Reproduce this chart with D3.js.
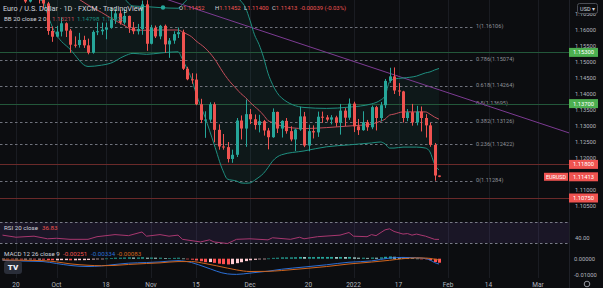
<!DOCTYPE html>
<html>
<head>
<meta charset="utf-8">
<script src="https://cdn.jsdelivr.net/npm/d3@7"></script>
<style>
  html, body { margin: 0; padding: 0; background: #0c0d10; overflow: hidden; }
  svg { display: block; font-family: Roboto, "Liberation Sans", sans-serif; }
</style>
</head>
<body>
<script>
// Ukuran kanvas dan batas panel
const SVG_DIM = { W: 603, H: 288 };
const PLOT_R = 569; // tepi kanan area plot, sumbu harga di sebelah kanannya
const PANE = { MAIN: [0, 213], RSI: [213, 249], MACD: [249, 278] };

// ---- Data candle harian EUR/USD (mulai 15 Sep 2021, hanya hari kerja) ----
const FIRST_DAY = "2021-09-15";
const opens = [
  1.1802, 1.1812, 1.1766,
  1.1725, 1.1727, 1.1725, 1.1689, 1.1740,
  1.1718, 1.1695, 1.1683, 1.1597, 1.1579,
  1.1595, 1.1621, 1.1598, 1.1554, 1.1553,
  1.1569, 1.1552, 1.1529, 1.1594, 1.1596,
  1.1601, 1.1607, 1.1633, 1.1652, 1.1623,
  1.1644, 1.1608, 1.1596, 1.1603, 1.1680,
  1.1557, 1.1607, 1.1580, 1.1613, 1.1555,
  1.1567, 1.1587, 1.1593, 1.1479, 1.1446,
  1.1445, 1.1368, 1.1318, 1.1320, 1.1368,
  1.1288, 1.1236, 1.1234, 1.1197, 1.1210,
  1.1317, 1.1292, 1.1337, 1.1321, 1.1303,
  1.1315, 1.1286, 1.1265, 1.1344, 1.1292,
  1.1316, 1.1284, 1.1258, 1.1289, 1.1330,
  1.1239, 1.1284, 1.1280, 1.1329, 1.1327,
  1.1320, 1.1327, 1.1310, 1.1348, 1.1326,
  1.1370, 1.1299, 1.1287, 1.1312, 1.1296,
  1.1359, 1.1325, 1.1365, 1.1441, 1.1455,
  1.1411, 1.1408, 1.1325, 1.1343, 1.1311,
  1.1345, 1.1325, 1.1302, 1.1241, 1.11452
];
const highs = [
  1.1831, 1.1822, 1.1787,
  1.1753, 1.1750, 1.1744, 1.1751, 1.1752,
  1.1726, 1.1704, 1.1688, 1.1611, 1.1613,
  1.1640, 1.1624, 1.1603, 1.1580, 1.1591,
  1.1582, 1.1573, 1.1599, 1.1624, 1.1623,
  1.1623, 1.1669, 1.1667, 1.1663, 1.1665,
  1.1645, 1.1625, 1.1619, 1.1692, 1.1693,
  1.1616, 1.1614, 1.1616, 1.1617, 1.1575,
  1.1596, 1.1608, 1.1601, 1.1485, 1.1465,
  1.1464, 1.1385, 1.1346, 1.1374, 1.1374,
  1.1305, 1.1275, 1.1250, 1.1226, 1.1325,
  1.1333, 1.1383, 1.1353, 1.1336, 1.1335,
  1.1319, 1.1294, 1.1355, 1.1345, 1.1318,
  1.1325, 1.1299, 1.1292, 1.1360, 1.1344,
  1.1304, 1.1302, 1.1345, 1.1345, 1.1334,
  1.1334, 1.1332, 1.1369, 1.1356, 1.1386,
  1.1376, 1.1322, 1.1346, 1.1319, 1.1364,
  1.1363, 1.1375, 1.1447, 1.1482, 1.1483,
  1.1434, 1.1410, 1.1353, 1.1369, 1.1363,
  1.1361, 1.1337, 1.1310, 1.1247, 1.11452
];
const lows = [
  1.1800, 1.1751, 1.1720,
  1.1701, 1.1714, 1.1684, 1.1686, 1.1700,
  1.1683, 1.1667, 1.1585, 1.1563, 1.1577,
  1.1580, 1.1578, 1.1529, 1.1545, 1.1545,
  1.1544, 1.1524, 1.1526, 1.1584, 1.1585,
  1.1571, 1.1604, 1.1619, 1.1617, 1.1617,
  1.1591, 1.1587, 1.1586, 1.1585, 1.1535,
  1.1555, 1.1575, 1.1571, 1.1529, 1.1513,
  1.1557, 1.1575, 1.1475, 1.1443, 1.1432,
  1.1365, 1.1309, 1.1263, 1.1313, 1.1249,
  1.1226, 1.1226, 1.1186, 1.1185, 1.1203,
  1.1258, 1.1235, 1.1306, 1.1289, 1.1280,
  1.1270, 1.1227, 1.1263, 1.1278, 1.1264,
  1.1276, 1.1252, 1.1222, 1.1285, 1.1234,
  1.1221, 1.1261, 1.1266, 1.1310, 1.1314,
  1.1305, 1.1298, 1.1273, 1.1300, 1.1319,
  1.1281, 1.1272, 1.1285, 1.1285, 1.1290,
  1.1286, 1.1315, 1.1356, 1.1435, 1.1400,
  1.1394, 1.1311, 1.1315, 1.1301, 1.1302,
  1.1283, 1.1264, 1.1235, 1.1129, 1.11400
];
const closes = [
  1.1812, 1.1766, 1.1725,
  1.1727, 1.1725, 1.1689, 1.1740, 1.1718,
  1.1695, 1.1683, 1.1597, 1.1579, 1.1595,
  1.1621, 1.1598, 1.1554, 1.1553, 1.1569,
  1.1552, 1.1529, 1.1594, 1.1596, 1.1601,
  1.1607, 1.1633, 1.1652, 1.1623, 1.1644,
  1.1608, 1.1596, 1.1603, 1.1680, 1.1557,
  1.1607, 1.1580, 1.1613, 1.1555, 1.1567,
  1.1587, 1.1593, 1.1479, 1.1446, 1.1445,
  1.1368, 1.1319, 1.1320, 1.1368, 1.1288,
  1.1236, 1.1234, 1.1197, 1.1210, 1.1317,
  1.1292, 1.1337, 1.1321, 1.1303, 1.1315,
  1.1286, 1.1265, 1.1344, 1.1292, 1.1316,
  1.1284, 1.1258, 1.1289, 1.1330, 1.1239,
  1.1284, 1.1280, 1.1329, 1.1327, 1.1320,
  1.1327, 1.1310, 1.1348, 1.1326, 1.1370,
  1.1299, 1.1287, 1.1312, 1.1296, 1.1359,
  1.1325, 1.1365, 1.1441, 1.1455, 1.1411,
  1.1408, 1.1325, 1.1343, 1.1311, 1.1345,
  1.1325, 1.1302, 1.1241, 1.11452, 1.11413
];

// ---- Bollinger Bands (20, 2), dibaca dari gambar pada beberapa tanggal ----
const bbDates = [
  "2021-09-15", "2021-09-22", "2021-09-28", "2021-09-29", "2021-09-30", "2021-10-01",
  "2021-10-06", "2021-10-12", "2021-10-15", "2021-10-19", "2021-10-22", "2021-10-26",
  "2021-10-29", "2021-11-03", "2021-11-09", "2021-11-10", "2021-11-11", "2021-11-12",
  "2021-11-15", "2021-11-17", "2021-11-19", "2021-11-23", "2021-11-24", "2021-11-26",
  "2021-11-29", "2021-11-30", "2021-12-01", "2021-12-02", "2021-12-03", "2021-12-06",
  "2021-12-07", "2021-12-08", "2021-12-10", "2021-12-17", "2021-12-24", "2021-12-31",
  "2022-01-07", "2022-01-11", "2022-01-12", "2022-01-13", "2022-01-14", "2022-01-18",
  "2022-01-21", "2022-01-25", "2022-01-26", "2022-01-27", "2022-01-28"
];
const bbUpper = [
  1.1890, 1.1885, 1.1880, 1.1885, 1.1890, 1.1895,
  1.1890, 1.1870, 1.1800, 1.1760, 1.1700, 1.1675,
  1.1673, 1.1670, 1.1668, 1.1680, 1.1695, 1.1710,
  1.1730, 1.1760, 1.1780, 1.1790, 1.1782, 1.1705,
  1.1690, 1.1670, 1.1630, 1.1585, 1.1555, 1.1515,
  1.1465, 1.1430, 1.1388, 1.1358, 1.1355, 1.1359,
  1.1369, 1.1381, 1.1394, 1.1438, 1.1447, 1.1450,
  1.1456, 1.1466, 1.1469, 1.1475, 1.14798
];
const bbBasis = [
  1.1800, 1.1780, 1.1765, 1.1758, 1.1750, 1.1742,
  1.1715, 1.1678, 1.1655, 1.1638, 1.1615, 1.1600,
  1.1599, 1.1600, 1.1600, 1.1594, 1.1587, 1.1579,
  1.1566, 1.1544, 1.1512, 1.1468, 1.1448, 1.1416,
  1.1401, 1.1389, 1.1374, 1.1361, 1.1349, 1.1334,
  1.1317, 1.1311, 1.1300, 1.1292, 1.1295, 1.1300,
  1.1306, 1.1315, 1.1321, 1.1334, 1.1337, 1.1344,
  1.1344, 1.1344, 1.1337, 1.1328, 1.13211
];
const bbLower = [
  1.1715, 1.1705, 1.1690, 1.1650, 1.1612, 1.1585,
  1.1540, 1.1486, 1.1490, 1.1496, 1.1518, 1.1527,
  1.1524, 1.1528, 1.1532, 1.1508, 1.1479, 1.1448,
  1.1402, 1.1328, 1.1244, 1.1160, 1.1134, 1.1128,
  1.1122, 1.1121, 1.1122, 1.1130, 1.1140, 1.1152,
  1.1170, 1.1190, 1.1210, 1.1222, 1.1235, 1.1241,
  1.1247, 1.1250, 1.1244, 1.1231, 1.1231, 1.1234,
  1.1234, 1.1231, 1.1219, 1.1181, 1.11623
];

// ---- RSI (20) ----
const rsiDates = [
  "2021-09-15", "2021-09-20", "2021-09-24", "2021-09-29", "2021-10-01", "2021-10-06",
  "2021-10-12", "2021-10-14", "2021-10-20", "2021-10-25", "2021-10-28", "2021-10-29",
  "2021-11-03", "2021-11-05", "2021-11-09", "2021-11-10", "2021-11-16", "2021-11-18",
  "2021-11-19", "2021-11-24", "2021-11-26", "2021-12-01", "2021-12-07", "2021-12-08",
  "2021-12-14", "2021-12-16", "2021-12-17", "2021-12-22", "2021-12-29", "2021-12-31",
  "2022-01-03", "2022-01-06", "2022-01-07", "2022-01-10", "2022-01-12", "2022-01-13",
  "2022-01-14", "2022-01-18", "2022-01-19", "2022-01-20", "2022-01-21", "2022-01-24",
  "2022-01-25", "2022-01-26", "2022-01-27", "2022-01-28"
];
const rsiValues = [
  45, 41, 43, 38, 39, 37,
  37, 42, 46, 44, 51, 43,
  46, 43, 45, 37, 32, 36,
  32, 29, 37, 38, 36, 40,
  37, 41, 38, 42, 45, 50,
  43, 42, 46, 44, 55, 57,
  52, 47, 48, 45, 47, 45,
  43, 40, 37, 36.83
];

// ---- MACD (12, 26, 9) ----
const macdDates = [
  "2021-09-15", "2021-09-22", "2021-09-28", "2021-10-01", "2021-10-06", "2021-10-12",
  "2021-10-15", "2021-10-20", "2021-10-25", "2021-10-29", "2021-11-03", "2021-11-09",
  "2021-11-12", "2021-11-17", "2021-11-24", "2021-11-26", "2021-12-01", "2021-12-07",
  "2021-12-10", "2021-12-17", "2021-12-24", "2021-12-31", "2022-01-07", "2022-01-13",
  "2022-01-18", "2022-01-21", "2022-01-25", "2022-01-26", "2022-01-27", "2022-01-28"
];
const macdValues = [
  -0.0010, -0.0015, -0.0018, -0.0030, -0.0042, -0.0049,
  -0.0045, -0.0036, -0.0028, -0.0024, -0.0020, -0.0012,
  -0.0024, -0.0052, -0.0095, -0.0098, -0.0090, -0.0078,
  -0.0066, -0.0052, -0.0038, -0.0022, -0.0014, 0.0004,
  0.0008, 0.0006, 0.0001, -0.0008, -0.0024, -0.00334
];
const signalValues = [
  -0.0008, -0.0010, -0.0012, -0.0020, -0.0032, -0.0041,
  -0.0044, -0.0042, -0.0036, -0.0030, -0.0026, -0.0018,
  -0.0018, -0.0030, -0.0059, -0.0070, -0.0080, -0.0079,
  -0.0074, -0.0062, -0.0049, -0.0033, -0.0021, -0.0010,
  0.0000, 0.0005, 0.0004, 0.0002, -0.0003, -0.00083
];
// histogram harian, sejajar dengan candle
const histValues = [
  -0.0002, -0.0003, -0.0004,
  -0.0004, -0.0005, -0.0005, -0.0004, -0.0005,
  -0.0005, -0.0006, -0.0009, -0.0010, -0.0010,
  -0.0009, -0.0009, -0.0010, -0.0010, -0.0009,
  -0.0009, -0.0008, -0.0005, -0.0003, -0.0001,
  0.0001, 0.0004, 0.0006, 0.0006, 0.0007,
  0.0008, 0.0007, 0.0007, 0.0009, 0.0006,
  0.0007, 0.0006, 0.0006, 0.0004, 0.0004,
  0.0005, 0.0006, 0.0001, -0.0003, -0.0006,
  -0.0011, -0.0016, -0.0022, -0.0021, -0.0026,
  -0.0031, -0.0034, -0.0036, -0.0034, -0.0028,
  -0.0022, -0.0015, -0.0010, -0.0007, -0.0004,
  -0.0002, 0.0001, 0.0005, 0.0006, 0.0008,
  0.0008, 0.0008, 0.0009, 0.0011, 0.0010,
  0.0010, 0.0010, 0.0011, 0.0011, 0.0011,
  0.0011, 0.0010, 0.0011, 0.0010, 0.0011,
  0.0008, 0.0006, 0.0006, 0.0005, 0.0007,
  0.0006, 0.0008, 0.0012, 0.0014, 0.0012,
  0.0010, 0.0008, 0.0006, 0.0003, 0.0001,
  -0.0001, -0.0003, -0.0010, -0.0021, -0.00251
];

// ---- Fibonacci retracement, garis level, garis tren ----
const fibRatios = ["1", "0.786", "0.618", "0.5", "0.382", "0.236", "0"];
const fibPrices = [1.16106, 1.15074, 1.14264, 1.13695, 1.13126, 1.12422, 1.11284];
const levelPrices = [1.153, 1.137, 1.118, 1.1075];
const levelLabels = ["1.15300", "1.13700", "1.11800", "1.10750"];
const levelIsUp = [true, true, false, false];
const trendDates = ["2021-12-01", "2022-03-01"];
const trendPrices = [1.16094, 1.13106];

// ---- Label sumbu ----
const priceTicks = [1.165, 1.16, 1.155, 1.15, 1.145, 1.14, 1.135, 1.13, 1.125, 1.12, 1.11, 1.105];
const tickDates = [
  "2021-09-20", "2021-10-01", "2021-10-18", "2021-11-01", "2021-11-15", "2021-12-01",
  "2021-12-20", "2022-01-03", "2022-01-17", "2022-02-01", "2022-02-14", "2022-03-01"
];
const tickLabels = ["20", "Oct", "18", "Nov", "15", "Dec", "20", "2022", "17", "Feb", "14", "Mar"];

const COLORS = {
  up: "#26a69a", down: "#ef5350", text: "#d1d4dc", axis: "#b2b5be",
  band: "#1f8f80", basis: "#c24d5a", grid: "#1a1c22"
};

// Indeks hari kerja relatif terhadap 20 Sep 2021
const parse = d3.utcParse("%Y-%m-%d");
const ORIGIN = parse("2021-09-20");
const isWeekday = (d) => d.getUTCDay() % 6 !== 0;
function dayIndex(s) {
  const d = parse(s);
  return d >= ORIGIN
    ? d3.utcDay.range(ORIGIN, d).filter(isWeekday).length
    : -d3.utcDay.range(d, ORIGIN).filter(isWeekday).length;
}
const firstIdx = dayIndex(FIRST_DAY);

const candles = closes.map((c, k) => ({
  i: firstIdx + k, o: opens[k], h: highs[k], l: lows[k], c: c, hist: histValues[k]
}));

// Skala
const x = d3.scaleLinear().domain([0, 94]).range([16, 439]);
const y = d3.scaleLinear().domain([1.16, 1.11]).range([30, 190]);
const yRsi = d3.scaleLinear().domain([30, 70]).range([243, 222]);
const yMacd = d3.scaleLinear().domain([0, -0.01]).range([258.7, 274.7]);

const svg = d3.select("body").append("svg")
  .attr("width", SVG_DIM.W).attr("height", SVG_DIM.H);

svg.append("rect").attr("width", SVG_DIM.W).attr("height", SVG_DIM.H).attr("fill", "#0c0d10");

const defs = svg.append("defs");
defs.append("clipPath").attr("id", "clip-main").append("rect")
  .attr("x", 0).attr("y", PANE.MAIN[0]).attr("width", PLOT_R).attr("height", PANE.MAIN[1] - PANE.MAIN[0]);
defs.append("clipPath").attr("id", "clip-macd").append("rect")
  .attr("x", 0).attr("y", PANE.MACD[0]).attr("width", PLOT_R).attr("height", PANE.MACD[1] - PANE.MACD[0]);

// Grid vertikal
svg.append("g").selectAll("line").data(tickDates).join("line")
  .attr("x1", (d) => Math.round(x(dayIndex(d))) + 0.5)
  .attr("x2", (d) => Math.round(x(dayIndex(d))) + 0.5)
  .attr("y1", 0).attr("y2", PANE.MACD[1])
  .attr("stroke", COLORS.grid);

// pemisah sumbu harga
svg.append("line").attr("x1", PLOT_R + 0.5).attr("x2", PLOT_R + 0.5)
  .attr("y1", 0).attr("y2", SVG_DIM.H).attr("stroke", "#1e2027");

// ===== Panel utama =====
const main = svg.append("g").attr("clip-path", "url(#clip-main)");

const bb = bbDates.map((d, k) => ({ i: dayIndex(d), u: bbUpper[k], m: bbBasis[k], l: bbLower[k] }));

main.append("path").datum(bb)
  .attr("fill", "#26a69a").attr("fill-opacity", 0.07)
  .attr("d", d3.area().x((d) => x(d.i)).y0((d) => y(d.l)).y1((d) => y(d.u)).curve(d3.curveMonotoneX));

// Fibonacci
const fib = main.append("g");
fib.selectAll("line").data(fibPrices).join("line")
  .attr("x1", 0).attr("x2", 473)
  .attr("y1", (d) => Math.round(y(d)) + 0.5).attr("y2", (d) => Math.round(y(d)) + 0.5)
  .attr("stroke", "#6f727c").attr("stroke-dasharray", "2.5,2.5");
fib.selectAll("text").data(fibPrices).join("text")
  .attr("x", 476).attr("y", (d) => y(d))
  .attr("dominant-baseline", "middle")
  .attr("font-size", "5.6px").attr("fill", "#8f9199")
  .text((d, k) => `${fibRatios[k]}(${d.toFixed(5)})`);

// Garis level horizontal
main.append("g").selectAll("line").data(levelPrices).join("line")
  .attr("x1", 0).attr("x2", PLOT_R)
  .attr("y1", (d) => Math.round(y(d)) + 0.5).attr("y2", (d) => Math.round(y(d)) + 0.5)
  .attr("stroke", (d, k) => (levelIsUp[k] ? "#23573a" : "#6b2a2a"));

// Garis tren (diperpanjang ke tepi)
const trend = d3.scaleLinear().domain(trendDates.map(dayIndex)).range(trendPrices);
const iLeft = x.invert(0), iRight = x.invert(PLOT_R);
main.append("line")
  .attr("x1", 0).attr("y1", y(trend(iLeft)))
  .attr("x2", PLOT_R).attr("y2", y(trend(iRight)))
  .attr("stroke", "#7d3b93").attr("stroke-width", 1);

// Garis Bollinger
const bbLine = (key) => d3.line().x((d) => x(d.i)).y((d) => y(d[key])).curve(d3.curveMonotoneX);
main.append("path").datum(bb).attr("fill", "none").attr("stroke", COLORS.band).attr("d", bbLine("u"));
main.append("path").datum(bb).attr("fill", "none").attr("stroke", COLORS.band).attr("d", bbLine("l"));
main.append("path").datum(bb).attr("fill", "none").attr("stroke", COLORS.basis).attr("d", bbLine("m"));

// Candle
const cg = main.append("g").selectAll("g").data(candles).join("g")
  .attr("fill", (d) => (d.c >= d.o ? COLORS.up : COLORS.down))
  .attr("stroke", (d) => (d.c >= d.o ? COLORS.up : COLORS.down));
cg.append("line")
  .attr("x1", (d) => Math.round(x(d.i)) + 0.5).attr("x2", (d) => Math.round(x(d.i)) + 0.5)
  .attr("y1", (d) => y(d.h)).attr("y2", (d) => y(d.l));
cg.append("rect")
  .attr("stroke", "none")
  .attr("x", (d) => Math.round(x(d.i)) - 1).attr("width", 3)
  .attr("y", (d) => y(Math.max(d.o, d.c)))
  .attr("height", (d) => Math.max(1, Math.abs(y(d.o) - y(d.c))));

// Sumbu harga
const priceAxis = d3.axisRight(y).tickValues(priceTicks).tickSize(0).tickPadding(0)
  .tickFormat(d3.format(".5f"));
svg.append("g").attr("transform", `translate(575,0)`).call(priceAxis)
  .call((g) => g.select(".domain").remove())
  .call((g) => g.selectAll("text").attr("fill", COLORS.axis).attr("font-size", "5.8px")
    .attr("font-family", "Roboto, sans-serif"));

// Label level di sumbu
const boxes = svg.append("g");
levelPrices.forEach((p, k) => {
  const c = levelIsUp[k] ? "#4caf50" : "#ef5350";
  boxes.append("rect").attr("x", PLOT_R).attr("y", y(p) - 4.5).attr("width", 29).attr("height", 9).attr("fill", c);
  boxes.append("text").attr("x", PLOT_R + 14.5).attr("y", y(p)).attr("text-anchor", "middle")
    .attr("dominant-baseline", "central").attr("font-size", "5.8px").attr("fill", "#fff").text(levelLabels[k]);
});
const last = candles[candles.length - 1];
boxes.append("rect").attr("x", 544).attr("y", y(last.c) - 4).attr("width", 24).attr("height", 8).attr("fill", "#ef5350");
boxes.append("text").attr("x", 556).attr("y", y(last.c)).attr("text-anchor", "middle")
  .attr("dominant-baseline", "central").attr("font-size", "5.4px").attr("fill", "#fff").text("EURUSD");
boxes.append("rect").attr("x", PLOT_R).attr("y", y(last.c) - 4.5).attr("width", 29).attr("height", 9).attr("fill", "#ef5350");
boxes.append("text").attr("x", PLOT_R + 14.5).attr("y", y(last.c)).attr("text-anchor", "middle")
  .attr("dominant-baseline", "central").attr("font-size", "5.8px").attr("fill", "#fff").text(last.c.toFixed(5));

// Kotak USD
svg.append("rect").attr("x", 577.5).attr("y", 3.5).attr("width", 20).attr("height", 10).attr("rx", 2)
  .attr("fill", "#0c0d10").attr("stroke", "#4a4d55");
svg.append("text").attr("x", 587.5).attr("y", 8.7).attr("text-anchor", "middle").attr("dominant-baseline", "central")
  .attr("font-size", "5.5px").attr("fill", COLORS.text).text("USD ▾");

// Legenda panel utama
const hdr = svg.append("text").attr("x", 3).attr("y", 8).attr("dominant-baseline", "central")
  .attr("font-size", "7.3px").attr("fill", COLORS.text);
hdr.append("tspan").text("Euro / U.S. Dollar · 1D · FXCM · TradingView");
svg.append("circle").attr("cx", 163).attr("cy", 7.5).attr("r", 2.2).attr("fill", "#26a69a");
const ohlc = svg.append("text").attr("y", 8).attr("dominant-baseline", "central").attr("font-size", "5.9px");
[["O", last.o, 179], ["H", last.h, 215], ["L", last.l, 244], ["C", last.c, 272]].forEach(([k, v, px]) => {
  ohlc.append("tspan").attr("x", px).attr("fill", COLORS.text).text(k);
  ohlc.append("tspan").attr("fill", COLORS.down).text(v.toFixed(5));
});
ohlc.append("tspan").attr("x", 300).attr("fill", COLORS.down).text("-0.00039 (-0.03%)");

const bbTxt = svg.append("text").attr("x", 4).attr("y", 18.5).attr("dominant-baseline", "central").attr("font-size", "6.2px");
bbTxt.append("tspan").attr("fill", COLORS.text).text("BB 20 close 2 0");
bbTxt.append("tspan").attr("x", 52).attr("fill", COLORS.basis).text(bbBasis[bbBasis.length - 1].toFixed(5));
bbTxt.append("tspan").attr("x", 77).attr("fill", COLORS.band).text(bbUpper[bbUpper.length - 1].toFixed(5));
bbTxt.append("tspan").attr("x", 102).attr("fill", COLORS.band).text(bbLower[bbLower.length - 1].toFixed(5));

// ===== Panel RSI =====
const rsi = svg.append("g");
rsi.append("rect").attr("x", 0).attr("width", PLOT_R).attr("y", yRsi(70)).attr("height", yRsi(30) - yRsi(70))
  .attr("fill", "#7e57c2").attr("fill-opacity", 0.13);
rsi.selectAll("line.band").data([70, 30]).join("line").attr("class", "band")
  .attr("x1", 0).attr("x2", PLOT_R)
  .attr("y1", (d) => Math.round(yRsi(d)) + 0.5).attr("y2", (d) => Math.round(yRsi(d)) + 0.5)
  .attr("stroke", "#787b86").attr("stroke-dasharray", "2.5,2.5");
const rsiPts = rsiDates.map((d, k) => ({ i: dayIndex(d), v: rsiValues[k] }));
rsi.append("path").datum(rsiPts).attr("fill", "none").attr("stroke", "#a8376f")
  .attr("d", d3.line().x((d) => x(d.i)).y((d) => yRsi(d.v)));
svg.append("text").attr("x", 575).attr("y", yRsi(40)).attr("dominant-baseline", "central")
  .attr("font-size", "5.8px").attr("fill", COLORS.axis).text("40.00");
const rsiTxt = svg.append("text").attr("x", 4).attr("y", 228).attr("dominant-baseline", "central").attr("font-size", "6.2px");
rsiTxt.append("tspan").attr("fill", COLORS.text).text("RSI 20 close");
rsiTxt.append("tspan").attr("x", 42).attr("fill", COLORS.down).text(rsiValues[rsiValues.length - 1].toFixed(2));

// ===== Panel MACD =====
const macd = svg.append("g").attr("clip-path", "url(#clip-macd)");
macd.selectAll("rect").data(candles).join("rect")
  .attr("x", (d) => Math.round(x(d.i)) - 1).attr("width", 3)
  .attr("y", (d) => Math.min(yMacd(0), yMacd(d.hist)))
  .attr("height", (d) => Math.max(0.6, Math.abs(yMacd(d.hist) - yMacd(0))))
  .attr("fill", (d, k) => {
    const prev = k > 0 ? candles[k - 1].hist : d.hist;
    if (d.hist >= 0) return d.hist >= prev ? "#26a69a" : "#b2dfdb";
    return d.hist < prev ? "#ff5252" : "#ffcdd2";
  });
const macdPts = macdDates.map((d, k) => ({ i: dayIndex(d), m: macdValues[k], s: signalValues[k] }));
macd.append("path").datum(macdPts).attr("fill", "none").attr("stroke", "#2b6fd6")
  .attr("d", d3.line().x((d) => x(d.i)).y((d) => yMacd(d.m)).curve(d3.curveMonotoneX));
macd.append("path").datum(macdPts).attr("fill", "none").attr("stroke", "#d0651e")
  .attr("d", d3.line().x((d) => x(d.i)).y((d) => yMacd(d.s)).curve(d3.curveMonotoneX));
svg.append("g").selectAll("text").data([0, -0.01]).join("text")
  .attr("x", 574).attr("y", (d) => yMacd(d)).attr("dominant-baseline", "central")
  .attr("font-size", "5.8px").attr("fill", COLORS.axis).text((d) => d3.format(".5f")(d).replace("−", "-"));
const macdTxt = svg.append("text").attr("x", 4).attr("y", 254).attr("dominant-baseline", "central").attr("font-size", "6.2px");
macdTxt.append("tspan").attr("fill", COLORS.text).text("MACD 12 26 close 9");
macdTxt.append("tspan").attr("x", 63).attr("fill", COLORS.down).text(histValues[histValues.length - 1].toFixed(5));
macdTxt.append("tspan").attr("x", 91).attr("fill", "#2b6fd6").text(macdValues[macdValues.length - 1].toFixed(5));
macdTxt.append("tspan").attr("x", 117).attr("fill", "#d0651e").text(signalValues[signalValues.length - 1].toFixed(5));

// Logo TV
svg.append("rect").attr("x", 4).attr("y", 261).attr("width", 18).attr("height", 13).attr("rx", 3).attr("fill", "#2a2e39");
svg.append("text").attr("x", 13).attr("y", 267.8).attr("text-anchor", "middle").attr("dominant-baseline", "central")
  .attr("font-size", "8px").attr("font-weight", 900).attr("fill", "#f0f3fa").text("TV");

// ===== Sumbu waktu =====
svg.append("g").selectAll("text").data(tickDates).join("text")
  .attr("x", (d) => x(dayIndex(d))).attr("y", 284.5)
  .attr("text-anchor", "middle").attr("dominant-baseline", "central")
  .attr("font-size", "6.5px").attr("fill", COLORS.axis)
  .text((d, k) => tickLabels[k]);

// ikon pengaturan
svg.append("circle").attr("cx", 587).attr("cy", 284).attr("r", 2.8).attr("fill", "none").attr("stroke", "#9598a1");
</script>
</body>
</html>
